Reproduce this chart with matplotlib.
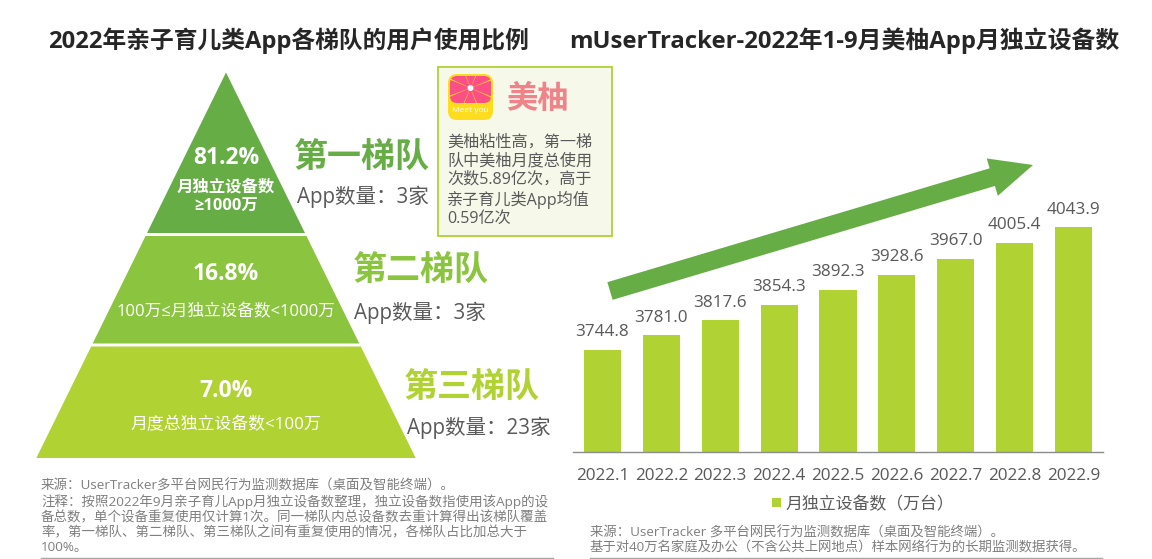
import numpy as np
import matplotlib
matplotlib.use('Agg')
import matplotlib.pyplot as plt
from matplotlib.patches import Polygon, Rectangle, FancyBboxPatch, Wedge, Circle

plt.rcParams['font.family'] = ['Open Sans', 'Noto Sans CJK SC', 'DejaVu Sans']

# ---- data ----
months = ['2022.1', '2022.2', '2022.3', '2022.4', '2022.5', '2022.6', '2022.7', '2022.8', '2022.9']
devices = [3744.8, 3781.0, 3817.6, 3854.3, 3892.3, 3928.6, 3967.0, 4005.4, 4043.9]
tier_names = ['第一梯队', '第二梯队', '第三梯队']
tier_shares = ['81.2%', '16.8%', '7.0%']
tier_rules = ['月独立设备数\n≥1000万', '100万≤月独立设备数<1000万', '月度总独立设备数<100万']
tier_counts = ['App数量：3家', 'App数量：3家', 'App数量：23家']

W, H = 1152, 559
GREY = '#595959'
NOTE = '#7f7f7f'
BAR = '#b0d232'
TOP = '#66ad46'
MID = '#8bc53f'

fig = plt.figure(figsize=(W / 100, H / 100), dpi=100)

# overlay in pixel coords for everything that is not the bar chart
bg = fig.add_axes([0, 0, 1, 1])
bg.set_xlim(0, W)
bg.set_ylim(H, 0)
bg.axis('off')

# ---- bar chart ----
x0, x1, ytop, ybot = 573, 1103, 100, 452
ax = fig.add_axes([x0 / W, 1 - ybot / H, (x1 - x0) / W, (ybot - ytop) / H])
ax.patch.set_alpha(0)
ax.bar(range(len(months)), devices, width=0.63, color=BAR)
ax.set_xlim(-0.5, 8.5)
ax.set_ylim(3497, 3497 + (ybot - ytop) / 0.411)
for i, v in enumerate(devices):
    ax.annotate(f'{v:.1f}', (i, v), xytext=(0, 7), textcoords='offset points',
                ha='center', va='bottom', fontsize=12.3, color=GREY)
ax.set_xticks(range(len(months)), months)
ax.tick_params(axis='x', length=0, pad=11.5, labelsize=12.3, labelcolor=GREY)
ax.set_yticks([])
for s in ['top', 'left', 'right']:
    ax.spines[s].set_visible(False)
ax.spines['bottom'].set_color('#8c8c8c')
ax.spines['bottom'].set_linewidth(1)

# trend arrow
bg.annotate('', xy=(1033, 165), xytext=(610, 291),
            arrowprops=dict(arrowstyle='simple,head_length=1.8,head_width=1.65,tail_width=0.78',
                            color=TOP, lw=0, shrinkA=0, shrinkB=0, mutation_scale=17))

# legend
bg.add_patch(Rectangle((772, 498), 9, 9, color=BAR, lw=0))
bg.text(786, 505, '月独立设备数（万台）', fontsize=12.2, color=GREY, va='center')

# ---- titles ----
bg.text(288, 41, '2022年亲子育儿类App各梯队的用户使用比例', fontsize=17.1, fontweight='bold',
        color='#262626', ha='center', va='center')
bg.text(844, 41, 'mUserTracker-2022年1-9月美柚App月独立设备数', fontsize=17.2, fontweight='bold',
        color='#262626', ha='center', va='center')

# ---- pyramid ----
def edge(y):
    # half width of the pyramid at height y
    return (y - 72.5) * 0.492

tiers = [(72.5, 233, TOP), (236, 343.5, MID), (346.5, 458, BAR)]
for y0, y1, c in tiers:
    bg.add_patch(Polygon([(226 - edge(y0), y0), (226 + edge(y0), y0),
                          (226 + edge(y1), y1), (226 - edge(y1), y1)], color=c, lw=0))

bg.text(226, 158, tier_shares[0], fontsize=16.5, fontweight='bold', color='white', ha='center', va='center')
bg.text(226, 197, tier_rules[0], fontsize=11.8, fontweight='bold', color='white', ha='center', va='center', linespacing=1.25)
bg.text(226, 274, tier_shares[1], fontsize=16.5, fontweight='bold', color='white', ha='center', va='center')
bg.text(226, 312, tier_rules[1], fontsize=12, color='white', ha='center', va='center')
bg.text(226, 391, tier_shares[2], fontsize=16.5, fontweight='bold', color='white', ha='center', va='center')
bg.text(226, 425, tier_rules[2], fontsize=12.2, color='white', ha='center', va='center')

bg.text(294, 159, tier_names[0], fontsize=24.5, fontweight='bold', color=TOP, va='center')
bg.text(353, 272, tier_names[1], fontsize=24.5, fontweight='bold', color=MID, va='center')
bg.text(404, 389, tier_names[2], fontsize=24.5, fontweight='bold', color=BAR, va='center')
bg.text(297, 197, tier_counts[0], fontsize=14.8, color=GREY, va='center')
bg.text(354, 313, tier_counts[1], fontsize=14.8, color=GREY, va='center')
bg.text(407, 428, tier_counts[2], fontsize=14.8, color=GREY, va='center')

# ---- callout ----
bg.add_patch(Rectangle((438, 67), 174, 169, fc='#f6f8ea', ec=BAR, lw=1.3))
logo = FancyBboxPatch((448, 74), 45, 46, boxstyle='round,pad=0,rounding_size=9', fc='#ffdc1e', lw=0)
bg.add_patch(logo)
pie_clip = FancyBboxPatch((450, 76), 41, 27, boxstyle='round,pad=0,rounding_size=7', fc='none', lw=0)
bg.add_patch(pie_clip)
for a in np.arange(0, 360, 45):
    w = Wedge((470.5, 88), 26, a + 25, a + 67, fc='#fb4f86', lw=0)
    bg.add_patch(w)
    w.set_clip_path(pie_clip)
bg.add_patch(Circle((470.5, 88), 3, fc='white', lw=0))
bg.text(470.5, 111, 'Meet you', fontsize=6, color='white', ha='center', va='center')
bg.text(506, 100, '美柚', fontsize=22.5, fontweight='bold', color='#f0828a', va='center')
bg.text(447, 181, '美柚粘性高，第一梯\n队中美柚月度总使用\n次数5.89亿次，高于\n亲子育儿类App均值\n0.59亿次',
        fontsize=11.6, color=GREY, va='center', linespacing=1.2)

# ---- notes ----
bg.text(41, 516.5, '来源：UserTracker多平台网民行为监测数据库（桌面及智能终端）。\n'
        '注释：按照2022年9月亲子育儿App月独立设备数整理，独立设备数指使用该App的设\n'
        '备总数，单个设备重复使用仅计算1次。同一梯队内总设备数去重计算得出该梯队覆盖\n'
        '率，第一梯队、第二梯队、第三梯队之间有重复使用的情况，各梯队占比加总大于\n100%。',
        fontsize=9.7, color=NOTE, va='center', linespacing=1.15)
bg.plot([41, 553], [558, 558], color='#a6a6a6', lw=1)
bg.text(590, 540.5, '来源：UserTracker 多平台网民行为监测数据库（桌面及智能终端）。\n'
        '基于对40万名家庭及办公（不含公共上网地点）样本网络行为的长期监测数据获得。',
        fontsize=9.65, color=NOTE, va='center', linespacing=1.15)
bg.plot([590, 1102], [558, 558], color='#a6a6a6', lw=1)

fig.savefig('out.png', dpi=100)
